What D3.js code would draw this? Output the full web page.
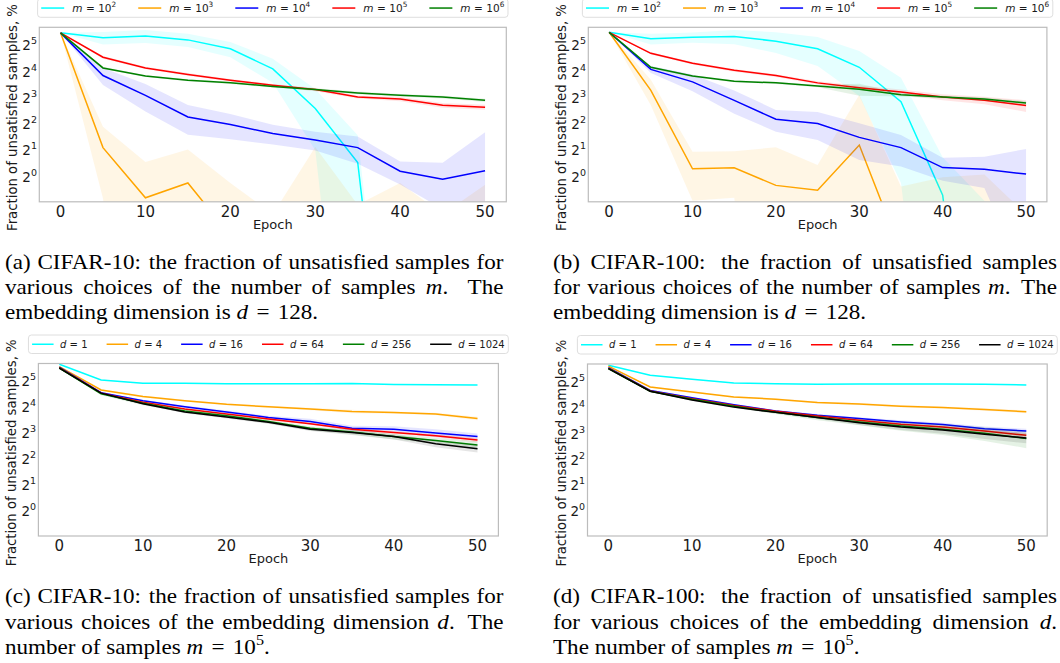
<!DOCTYPE html>
<html>
<head>
<meta charset="utf-8">
<script src="https://cdn.jsdelivr.net/npm/d3@7"></script>
<style>
  body { margin: 0; background: #fff; }
  svg { display: block; }
</style>
</head>
<body>
<div id="fig"></div>
<script>
// epochs shared by every curve
const epochs = [0, 5, 10, 15, 20, 25, 30, 35, 40, 45, 50];

// (a) CIFAR-10, number of samples m (d = 128), percent
const c10_m2    = [41.9, 36.8, 38.6, 34.8, 27.5, 16.2, 5.7, 1.37, 0, 0, 0];
const c10_m2_sd = [0, 6, 6.5, 6, 5.5, 5, 3.8, 1.45, 0, 0, 0];
const c10_m3    = [41.9, 2.03, 0.54, 0.8, 0.2, 0.05, 0.3, 0.1, 0.2, 0.05, 0.2];
const c10_m3_sd = [0, 1.5, 0.85, 1.13, 0.6, 0.3, 1.77, 0.35, 0.6, 0.3, 0.56];
const c10_m4    = [41.9, 13.6, 8.06, 4.56, 3.73, 2.95, 2.48, 2.03, 1.09, 0.88, 1.1];
const c10_m4_sd = [0, 3, 2.8, 1.7, 1.2, 0.75, 0.6, 0.7, 0.32, 0.48, 1.95];
const c10_m5    = [41.9, 22.0, 16.6, 14.0, 12.0, 10.5, 9.4, 7.7, 7.3, 6.2, 5.9];
const c10_m5_sd = [0, 0.8, 0.5, 0.5, 0.4, 0.4, 0.4, 0.3, 0.4, 0.4, 0.4];
const c10_m6    = [41.9, 16.6, 13.4, 12.0, 11.2, 10.2, 9.4, 8.6, 8.06, 7.7, 7.06];
const c10_m6_sd = [0, 0.5, 0.3, 0.3, 0.3, 0.3, 0.3, 0.3, 0.3, 0.3, 0.3];

// (b) CIFAR-100, number of samples m (d = 128)
const c100_m2    = [42.5, 35.8, 37.3, 38.1, 33.6, 27.5, 16.9, 6.8, 0.58, 0, 0];
const c100_m2_sd = [0, 5, 5, 7, 9, 10, 9, 6, 1.0, 0.5, 0];
const c100_m3    = [42.5, 9.2, 1.16, 1.19, 0.75, 0.66, 2.17, 0.13, 0.1, 0.1, 0.05];
const c100_m3_sd = [0, 3, 0.66, 0.65, 1.3, 0.62, 6, 0.6, 0.83, 0.9, 0.3];
const c100_m4    = [42.5, 16.0, 11.5, 7.06, 4.29, 3.84, 2.66, 2.03, 1.2, 1.15, 1.01];
const c100_m4_sd = [0, 1.5, 2.5, 2.1, 1.2, 1.35, 1.2, 0.8, 0.35, 0.45, 0.95];
const c100_m5    = [42.5, 24.4, 18.8, 15.6, 13.6, 11.2, 9.85, 8.8, 7.7, 7.06, 6.15];
const c100_m5_sd = [0, 0.8, 0.6, 0.6, 0.5, 0.5, 0.6, 0.6, 0.6, 0.7, 0.95];
const c100_m6    = [42.5, 16.9, 13.4, 11.7, 11.2, 10.3, 9.45, 8.2, 7.7, 7.3, 6.6];
const c100_m6_sd = [0, 0.5, 0.4, 0.3, 0.3, 0.3, 1.5, 0.4, 0.3, 0.3, 0.3];

// (c) CIFAR-10, embedding dimension d (m = 10^5)
const c10_d1       = [47.5, 31.3, 28.6, 28.6, 28.2, 28.2, 28.2, 28.4, 27.7, 27.5, 27.3];
const c10_d1_sd    = [0, 0.3, 0.3, 0.3, 0.3, 0.3, 0.3, 0.3, 0.3, 0.3, 0.3];
const c10_d4       = [44.6, 23.9, 20.1, 18.0, 16.3, 15.3, 14.4, 13.5, 13.1, 12.6, 11.2];
const c10_d4_sd    = [0, 0.5, 0.6, 0.4, 0.4, 0.4, 0.5, 0.6, 0.4, 0.4, 0.5];
const c10_d16      = [44.0, 22.3, 18.0, 15.3, 13.3, 11.5, 10.3, 8.6, 8.4, 7.6, 6.9];
const c10_d16_sd   = [0, 0.4, 0.5, 0.5, 0.5, 0.5, 0.8, 0.6, 0.7, 0.8, 0.6];
const c10_d64      = [43.5, 22.0, 17.3, 14.4, 12.6, 11.0, 9.7, 8.4, 7.7, 7.06, 6.3];
const c10_d64_sd   = [0, 0.4, 0.4, 0.3, 0.3, 0.3, 0.3, 0.3, 0.3, 0.3, 0.4];
const c10_d256     = [43.0, 21.6, 16.8, 13.7, 12.0, 10.3, 8.6, 7.8, 6.9, 6.2, 5.5];
const c10_d256_sd  = [0, 0.8, 0.9, 0.7, 0.6, 0.5, 0.5, 0.5, 0.5, 0.5, 0.6];
const c10_d1024    = [42.8, 22.0, 16.6, 13.3, 11.6, 10.1, 8.4, 7.7, 6.9, 5.7, 5.0];
const c10_d1024_sd = [0, 0.4, 0.4, 0.4, 0.4, 0.4, 0.4, 0.5, 0.5, 0.5, 0.5];

// (d) CIFAR-100, embedding dimension d (m = 10^5)
const c100_d1       = [46.8, 35.8, 32.2, 29.2, 28.6, 28.2, 28.4, 28.4, 28.4, 28.2, 27.7];
const c100_d1_sd    = [0, 0.3, 0.3, 0.3, 0.3, 0.3, 0.3, 0.3, 0.3, 0.3, 0.3];
const c100_d4       = [45.9, 26.2, 22.9, 20.1, 18.9, 17.3, 16.6, 15.7, 15.1, 14.4, 13.5];
const c100_d4_sd    = [0, 0.5, 0.5, 0.5, 0.5, 0.5, 0.5, 0.5, 0.5, 0.5, 0.5];
const c100_d16      = [44.0, 23.9, 19.6, 16.3, 13.8, 12.3, 11.3, 10.3, 9.6, 8.6, 8.06];
const c100_d16_sd   = [0, 0.4, 0.4, 0.4, 0.4, 0.4, 0.4, 0.5, 0.5, 0.5, 0.5];
const c100_d64      = [43.5, 23.6, 19.2, 16.0, 13.7, 12.1, 10.8, 9.7, 9.0, 8.06, 7.2];
const c100_d64_sd   = [0, 0.4, 0.4, 0.4, 0.4, 0.4, 0.4, 0.4, 0.4, 0.4, 0.5];
const c100_d256     = [43.0, 23.4, 18.9, 15.7, 13.3, 11.6, 10.3, 9.25, 8.46, 7.6, 6.6];
const c100_d256_sd  = [0, 0.6, 0.6, 0.6, 0.6, 0.8, 0.9, 1.1, 1.2, 1.4, 1.5];
const c100_d1024    = [42.8, 23.4, 18.5, 15.3, 13.3, 11.6, 10.1, 9.0, 8.3, 7.4, 6.7];
const c100_d1024_sd = [0, 0.4, 0.4, 0.4, 0.4, 0.5, 0.6, 0.7, 0.8, 0.9, 0.9];

// legend labels and colours
const mExponents = ["2", "3", "4", "5", "6"];
const mColors = ["cyan", "orange", "blue", "red", "green"];
const dValues = ["1", "4", "16", "64", "256", "1024"];
const dColors = ["cyan", "orange", "blue", "red", "green", "black"];

// ticks
const xTicks = [0, 10, 20, 30, 40, 50];
const yTickExps = [0, 1, 2, 3, 4, 5];

// captions (*x* = italic, ^{k} = superscript)
const capA = [
	"(a) CIFAR-10: the fraction of unsatisfied samples for",
	"various choices of the number of samples *m*. The",
	"embedding dimension is *d* = 128."
];
const capB = [
	"(b) CIFAR-100: the fraction of unsatisfied samples",
	"for various choices of the number of samples *m*. The",
	"embedding dimension is *d* = 128."
];
const capC = [
	"(c) CIFAR-10: the fraction of unsatisfied samples for",
	"various choices of the embedding dimension *d*. The",
	"number of samples *m* = 10^{5}."
];
const capD = [
	"(d) CIFAR-100: the fraction of unsatisfied samples",
	"for various choices of the embedding dimension *d*.",
	"The number of samples *m* = 10^{5}."
];

const mSeries = (means, sds) => means.map((v, i) => ({
	mean: v, sd: sds[i], color: mColors[i],
	label: [{t: "m", it: true}, {t: "=", gap: true}, {t: "10", gap: true}, {t: mExponents[i], sup: true}]
}));
const dSeries = (means, sds) => means.map((v, i) => ({
	mean: v, sd: sds[i], color: dColors[i],
	label: [{t: "d", it: true}, {t: "=", gap: true}, {t: dValues[i], gap: true}]
}));

// legend layout per row of figures
const mLegend = {fs: 10.5, handle: 23, pad: 8, colGap: 22, eqGap: 0.33};
const dLegend = {fs: 10, handle: 21.5, pad: 6.5, colGap: 19, eqGap: 0.32};

const panels = [
	{name: "a", x0: 39.3, x1: 506.3, y0: 27.3, y1: 201.8, cap: capA, capX0: 5, capX1: 503.5, capY: 269, legend: mLegend,
		series: mSeries([c10_m2, c10_m3, c10_m4, c10_m5, c10_m6], [c10_m2_sd, c10_m3_sd, c10_m4_sd, c10_m5_sd, c10_m6_sd])},
	{name: "b", x0: 588.3, x1: 1046.9, y0: 27.3, y1: 201.8, cap: capB, capX0: 553, capX1: 1057, capY: 269, legend: mLegend,
		series: mSeries([c100_m2, c100_m3, c100_m4, c100_m5, c100_m6], [c100_m2_sd, c100_m3_sd, c100_m4_sd, c100_m5_sd, c100_m6_sd])},
	{name: "c", x0: 38.4, x1: 498.4, y0: 363.5, y1: 536, cap: capC, capX0: 5, capX1: 503.5, capY: 603.5, legend: dLegend,
		series: dSeries([c10_d1, c10_d4, c10_d16, c10_d64, c10_d256, c10_d1024], [c10_d1_sd, c10_d4_sd, c10_d16_sd, c10_d64_sd, c10_d256_sd, c10_d1024_sd])},
	{name: "d", x0: 587.5, x1: 1047.2, y0: 364, y1: 536, cap: capD, capX0: 553, capX1: 1057, capY: 603.5, legend: dLegend,
		series: dSeries([c100_d1, c100_d4, c100_d16, c100_d64, c100_d256, c100_d1024], [c100_d1_sd, c100_d4_sd, c100_d16_sd, c100_d64_sd, c100_d256_sd, c100_d1024_sd])}
];

const svg = d3.select("#fig")
	.append("svg")
		.attr("width", 1060)
		.attr("height", 663)
		.style("font-family", "'DejaVu Sans', sans-serif");

const textColor = "#1a1a1a";
const floor = 1e-4;
// captions in the reference are a little wider than plain Times at their height
const capStretch = 1.1;

panels.forEach(drawPanel);

function addRuns(text, runs, fs, eqGap){
	let shifted = false;
	runs.forEach(r => {
		const ts = text.append("tspan").text(r.t);
		if(r.it) ts.style("font-style", "italic");
		if(r.gap) ts.attr("dx", (eqGap || 0.25) * fs);
		if(r.sup){
			ts.attr("dy", -0.42 * fs).style("font-size", (0.7 * fs) + "px");
			shifted = true;
		}else if(shifted){
			ts.attr("dy", 0.42 * fs);
			shifted = false;
		}
	});
}

function parseRuns(word){
	const runs = [];
	const re = /\*([^*]+)\*|\^\{([^}]+)\}|([^*^]+)/g;
	let m;
	while((m = re.exec(word))){
		if(m[1]) runs.push({t: m[1], it: true});
		else if(m[2]) runs.push({t: m[2], sup: true});
		else runs.push({t: m[3]});
	}
	return runs;
}

function drawPanel(p){
	const g = svg.append("g").attr("class", "panel-" + p.name);

	const x = d3.scaleLinear().domain([-2.5, 52.5]).range([p.x0, p.x1]);
	const y = d3.scaleLog().base(2).domain([Math.pow(2, -1.04), Math.pow(2, 5.6)]).range([p.y1, p.y0]);

	const clipId = "clip-" + p.name;
	g.append("clipPath")
		.attr("id", clipId)
		.append("rect")
			.attr("x", p.x0)
			.attr("y", p.y0)
			.attr("width", p.x1 - p.x0)
			.attr("height", p.y1 - p.y0);

	const plot = g.append("g").attr("clip-path", `url(#${clipId})`);

	const area = d3.area()
		.x((d, i) => x(epochs[i]))
		.y0(d => y(Math.max(d.lo, floor)))
		.y1(d => y(Math.max(d.hi, floor)));
	const line = d3.line()
		.x((d, i) => x(epochs[i]))
		.y(d => y(Math.max(d, floor)));

	p.series.forEach(s => {
		const band = s.mean.map((v, i) => ({lo: v - s.sd[i], hi: v + s.sd[i]}));
		plot.append("path")
			.datum(band)
			.attr("d", area)
			.attr("fill", s.color)
			.attr("fill-opacity", 0.1);
		plot.append("path")
			.datum(s.mean)
			.attr("d", line)
			.attr("fill", "none")
			.attr("stroke", s.color)
			.attr("stroke-width", 1.5);
	});

	// frame
	g.append("rect")
		.attr("x", p.x0)
		.attr("y", p.y0)
		.attr("width", p.x1 - p.x0)
		.attr("height", p.y1 - p.y0)
		.attr("fill", "none")
		.attr("stroke", "#bcbcbc")
		.attr("stroke-width", 1.2);

	// x tick labels
	g.selectAll(".xtick")
		.data(xTicks)
		.join("text")
			.attr("class", "xtick")
			.attr("x", d => x(d))
			.attr("y", p.y1 + 15)
			.attr("text-anchor", "middle")
			.style("font-size", "15px")
			.attr("fill", textColor)
			.text(d => d);

	// y tick labels 2^k
	yTickExps.forEach(k => {
		const t = g.append("text")
			.attr("x", p.x0 - 17)
			.attr("y", y(Math.pow(2, k)) + 7.3)
			.style("font-size", "13.5px")
			.attr("fill", textColor);
		t.append("tspan").text("2");
		t.append("tspan")
			.attr("dy", -6)
			.style("font-size", "9.5px")
			.text(k);
	});

	// axis labels
	g.append("text")
		.attr("x", (p.x0 + p.x1) / 2)
		.attr("y", p.y1 + 27)
		.attr("text-anchor", "middle")
		.style("font-size", "13px")
		.attr("fill", textColor)
		.text("Epoch");

	const yl = g.append("text")
		.attr("transform", `translate(${p.x0 - 22}, ${(p.y0 + p.y1) / 2 + 3}) rotate(-90)`)
		.attr("text-anchor", "middle")
		.style("font-size", "10px")
		.attr("fill", textColor)
		.text("Fraction of unsatisfied samples, %");
	// fit the label to the length it has in the reference
	yl.style("font-size", (10 * 227 / yl.node().getComputedTextLength()) + "px");

	drawLegend(g, p);
	drawCaption(p);
}

function drawLegend(g, p){
	const {fs, handle, pad, colGap, eqGap} = p.legend;
	const boxPad = 3.6, boxH = 18.5;
	const lg = g.append("g");
	const box = lg.append("rect");
	const cy = p.y0 - 10 - boxH / 2;
	let cx = 0;
	p.series.forEach(s => {
		lg.append("line")
			.attr("x1", cx)
			.attr("x2", cx + handle)
			.attr("y1", cy)
			.attr("y2", cy)
			.attr("stroke", s.color)
			.attr("stroke-width", 1.5);
		const t = lg.append("text")
			.attr("x", cx + handle + pad)
			.attr("y", cy + 3.5)
			.style("font-size", fs + "px")
			.attr("fill", textColor);
		addRuns(t, s.label, fs, eqGap);
		cx += handle + pad + t.node().getComputedTextLength() + 2 * eqGap * fs + colGap;
	});
	const inner = cx - colGap;
	const total = inner + 2 * boxPad;
	const left = (p.x0 + p.x1) / 2 - total / 2;
	box
		.attr("x", -boxPad)
		.attr("y", cy - boxH / 2)
		.attr("width", total)
		.attr("height", boxH)
		.attr("rx", 3)
		.attr("fill", "#fff")
		.attr("stroke", "#d6d6d6")
		.attr("stroke-width", 0.8);
	lg.attr("transform", `translate(${left + boxPad}, 0)`);
}

function drawCaption(p){
	const fs = 21, lineH = 25.2;
	const width = (p.capX1 - p.capX0) / capStretch;
	const cg = svg.append("g")
		.attr("transform", `translate(${p.capX0}, 0) scale(${capStretch}, 1)`)
		.style("font-family", "'Liberation Serif', 'Times New Roman', serif")
		.style("font-size", fs + "px")
		.attr("fill", "#000");
	p.cap.forEach((line, li) => {
		const yb = p.capY + li * lineH;
		const words = line.split(" ");
		const nodes = words.map(w => {
			const t = cg.append("text").attr("y", yb);
			addRuns(t, parseRuns(w), fs);
			return t;
		});
		const widths = nodes.map(n => n.node().getComputedTextLength());
		const justify = li < p.cap.length - 1;
		// math relations get thick spaces, as in TeX
		const natural = words.slice(0, -1).map((w, i) => (w === "=" || words[i + 1] === "=") ? 0.36 * fs : 0.25 * fs);
		const weights = words.slice(0, -1).map(w => /[.]$/.test(w) ? 3 : /[:]$/.test(w) ? 2 : 1);
		const extra = justify ? width - d3.sum(widths) - d3.sum(natural) : 0;
		const wSum = d3.sum(weights);
		let cx = 0;
		nodes.forEach((n, i) => {
			n.attr("x", cx);
			if(i < weights.length){
				cx += widths[i] + natural[i] + (justify ? extra * weights[i] / wSum : 0);
			}
		});
	});
}
</script>
</body>
</html>
